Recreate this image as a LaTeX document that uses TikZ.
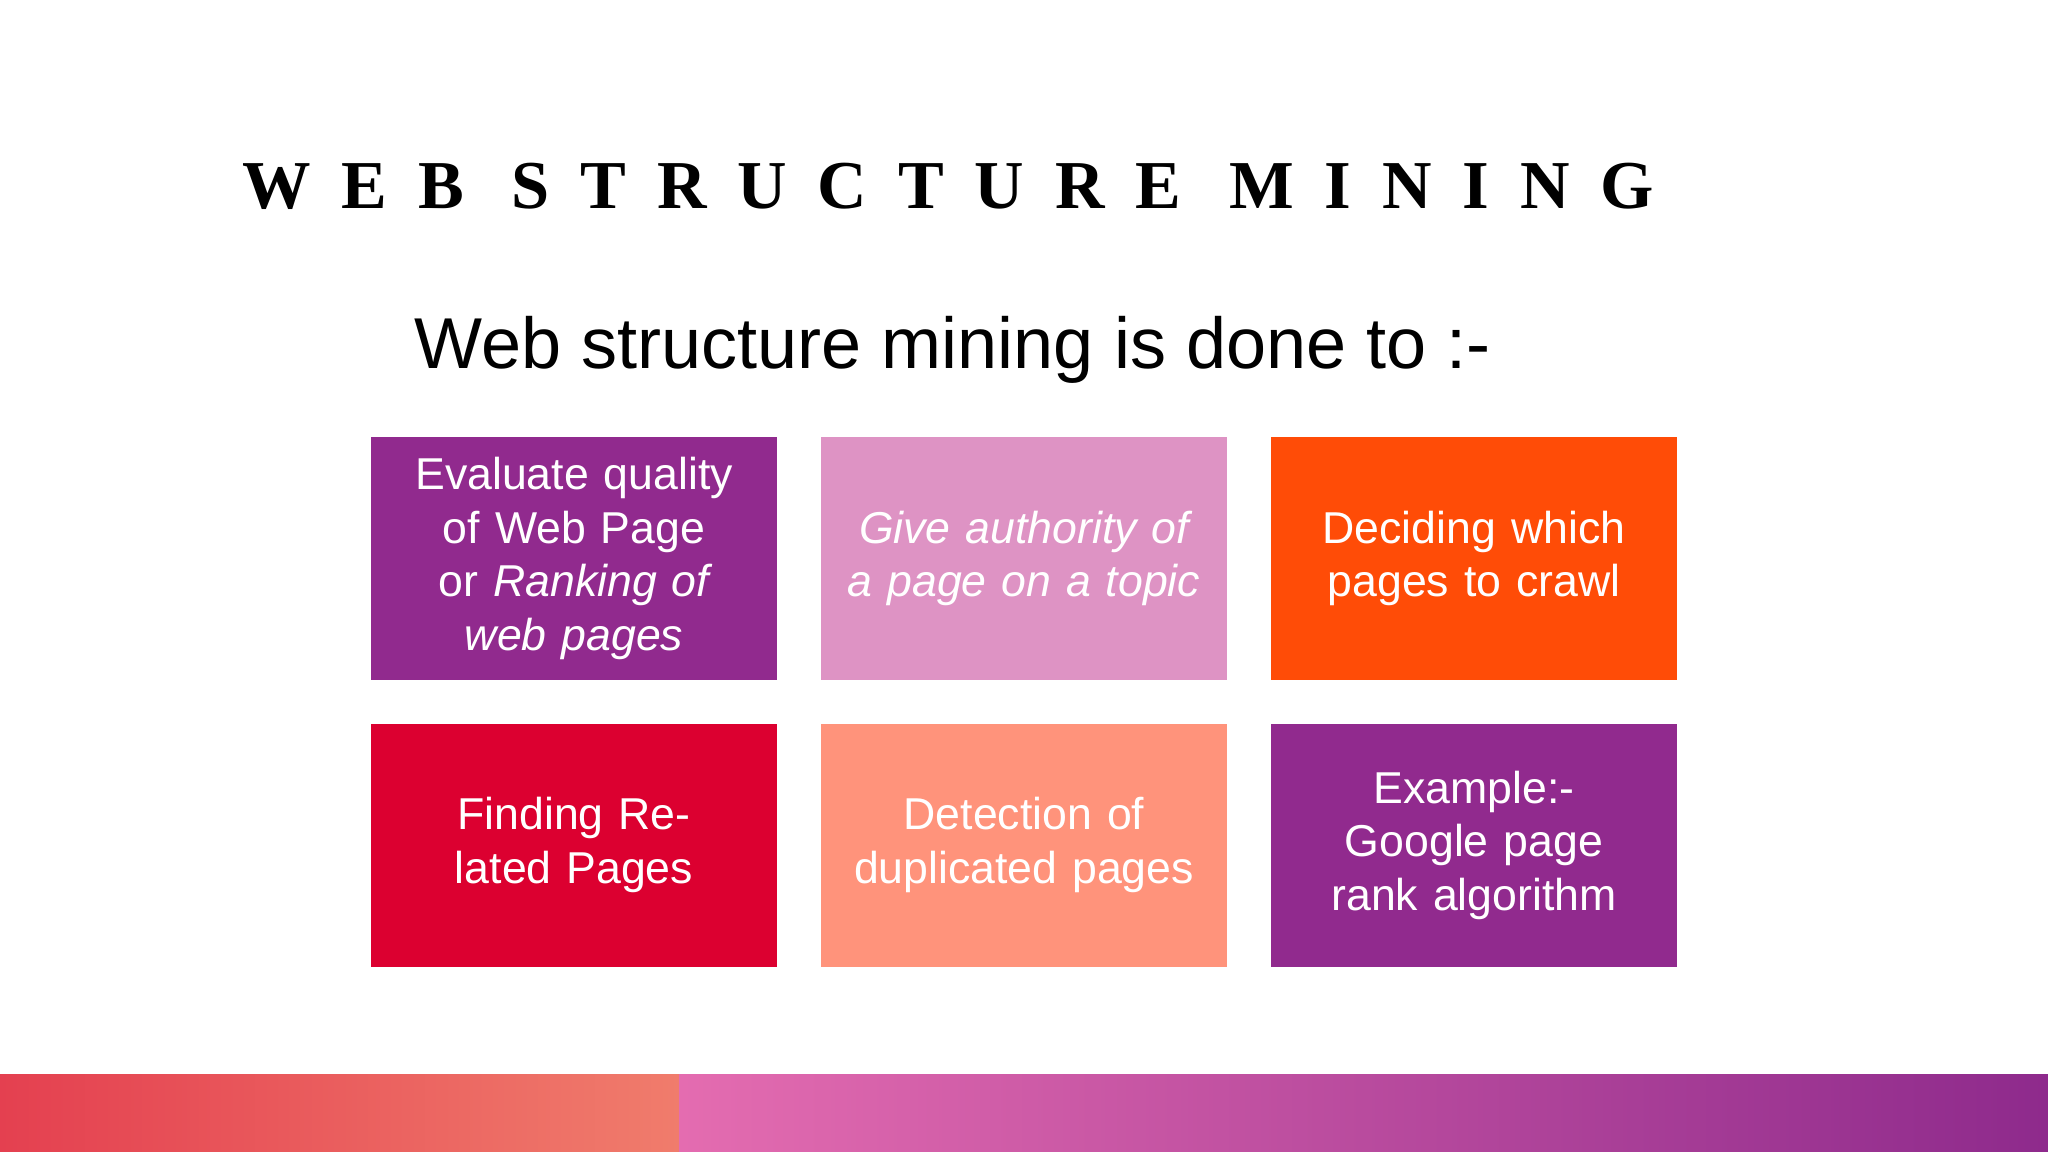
\documentclass[tikz,border=0pt]{standalone}
\usepackage{fontspec}
\setmainfont{Liberation Sans}
\newfontfamily\titlefont[LetterSpace=45]{Liberation Serif}
\definecolor{wsmpurple}{HTML}{912A8E}
\definecolor{wsmpink}{HTML}{DE93C4}
\definecolor{wsmorange}{HTML}{FF4C07}
\definecolor{wsmred}{HTML}{DC0030}
\definecolor{wsmsalmon}{HTML}{FF937B}
\newlength{\unitpx}
\setlength{\unitpx}{0.013061cm}
\tikzset{
 tile/.style={minimum width=311\unitpx, minimum height=186\unitpx, inner sep=0pt,
  text width=290\unitpx, align=center, text=white, font=\fontsize{12.7}{15.2}\selectfont},
}
\begin{document}
\begin{tikzpicture}[x=\unitpx,y=-\unitpx]
\useasboundingbox (0,0) rectangle (1568,882);
\fill[white] (0,0) rectangle (1568,882);

% title
\node[anchor=west, font=\titlefont\bfseries\fontsize{19.5}{22}\selectfont] (title) at (176,143) {WEB STRUCTURE MINING};
\node[anchor=west, font=\fontsize{20.5}{24}\selectfont] (sub) at (308,268) {Web structure mining is done to :-};

% tiles
\node[tile, fill=wsmpurple] (t1) at (439.5,427.5) {Evaluate quality of Web Page or \textit{Ranking of web pages}};
\node[tile, fill=wsmpink, font=\itshape\fontsize{12.7}{15.2}\selectfont] (t2) at (784,427.5) {Give authority of a page on a topic};
\node[tile, fill=wsmorange] (t3) at (1128.5,427.5) {Deciding which pages to crawl};
\node[tile, fill=wsmred] (t4) at (439.5,647) {Finding Related Pages};
\node[tile, fill=wsmsalmon] (t5) at (784,647) {Detection of duplicated pages};
\node[tile, fill=wsmpurple] (t6) at (1128.5,647) {Example:-\\ Google page rank algorithm};

% bottom band
\shade[left color={rgb,255:red,228;green,64;blue,80}, right color={rgb,255:red,240;green,124;blue,108}] (0,823) rectangle (520,882);
\shade[left color={rgb,255:red,228;green,108;blue,176}, right color={rgb,255:red,142;green,42;blue,140}] (520,823) rectangle (1568,882);
\end{tikzpicture}
\end{document}
